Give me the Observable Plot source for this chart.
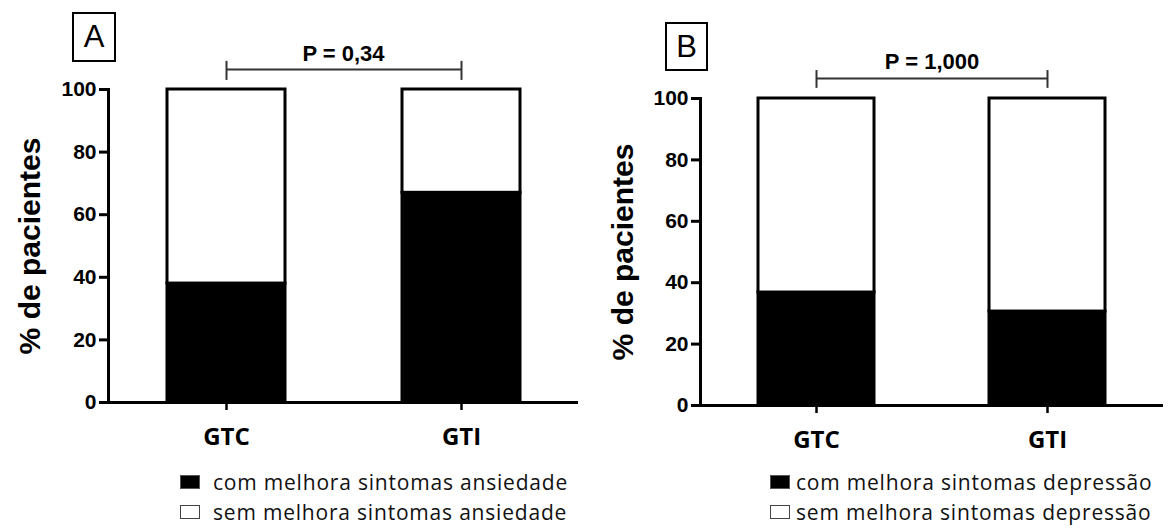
<!DOCTYPE html>
<html>
<head>
<meta charset="utf-8">
<script src="https://cdn.jsdelivr.net/npm/d3@7"></script>
<script src="https://cdn.jsdelivr.net/npm/@observablehq/plot@0.6"></script>
<style>
  html, body { margin: 0; padding: 0; background: #fff; }
  #wrap { position: relative; width: 1175px; height: 531px; overflow: hidden; background: #fff; }
  .panel { position: absolute; top: 0; }
  .tag { position: absolute; box-sizing: border-box; border: 2.5px solid #000; font-family: "Liberation Sans", Arial, sans-serif; font-size: 31px; display: flex; align-items: center; justify-content: center; color: #000; }
  .legend { position: absolute; font-family: "Open Sans", sans-serif; font-size: 21px; letter-spacing: 0.8px; color: #111; }
</style>
</head>
<body>
<div id="wrap"></div>
<script>
// ---- data ----
const categories = ["GTC", "GTI"];
const comA = [38, 67];          // % com melhora sintomas ansiedade
const semA = [62, 33];          // % sem melhora sintomas ansiedade
const comB = [36.8, 30.6];      // % com melhora sintomas depressão
const semB = [63.2, 69.4];      // % sem melhora sintomas depressão
const yTicks = [0, 20, 40, 60, 80, 100];
const yLabel = "% de pacientes";
const pA = "P = 0,34";
const pB = "P = 1,000";
const legendA = ["com melhora sintomas ansiedade", "sem melhora sintomas ansiedade"];
const legendB = ["com melhora sintomas depressão", "sem melhora sintomas depressão"];
const tags = ["A", "B"];

function rows(com, sem) {
  return categories.flatMap((c, i) => [
    {cat: c, grupo: "com", v: com[i]},
    {cat: c, grupo: "sem", v: sem[i]}
  ]);
}

function panel({com, sem, p, width, mL, mR, mT, mB, brY, brLo, brHi, pY, labelDx}) {
  return Plot.plot({
    width, height: 460,
    marginLeft: mL, marginRight: mR, marginTop: mT, marginBottom: mB,
    x: {domain: categories, paddingInner: 0.5, paddingOuter: 0.25, axis: null},
    y: {domain: [0, 100], axis: null},
    color: {type: "identity"},
    style: {background: "transparent", overflow: "visible", fontFamily: "Liberation Sans, Arial, sans-serif", fontWeight: "bold", fontSize: "20px", color: "#000"},
    marks: [
      Plot.barY(rows(com, sem), Plot.stackY({
        x: "cat", y: "v",
        fill: d => d.grupo === "com" ? "black" : "white",
        stroke: "black", strokeWidth: 3
      })),
      Plot.frame({anchor: "left", strokeWidth: 3, stroke: "black"}),
      Plot.ruleY([0], {strokeWidth: 3, stroke: "black"}),
      Plot.axisY({ticks: yTicks, tickSize: 9, tickPadding: 3, fontSize: 21, fontWeight: "bold", strokeWidth: 3, label: null}),
      Plot.axisX({tickSize: 8, tickPadding: 17, fontSize: 24, fontWeight: "bold", fontFamily: "Open Sans", strokeWidth: 2.5, label: null}),
      Plot.text([yLabel], {frameAnchor: "left", text: d => d, rotate: -90, dx: labelDx, fontSize: 30, fontWeight: "bold", lineAnchor: "middle", textAnchor: "middle"}),
      Plot.link([{from: categories[0], to: categories[1]}], {x1: "from", x2: "to", y1: brY, y2: brY, stroke: "#333", strokeWidth: 2}),
      Plot.ruleX(categories, {x: d => d, y1: brLo, y2: brHi, stroke: "#333", strokeWidth: 2}),
      Plot.text([p], {y: pY, text: d => d, fontSize: 22, fontWeight: "bold", lineAnchor: "middle"})
    ]
  });
}

const wrap = document.getElementById("wrap");

const a = panel({com: comA, sem: semA, p: pA, width: 590, mL: 108, mR: 12, mT: 89, mB: 58,
  brY: 106.4, brLo: 102.9, brHi: 109, pY: 111.3, labelDx: -78});
a.classList.add("panel"); a.style.left = "0px";
wrap.appendChild(a);

const b = panel({com: comB, sem: semB, p: pB, width: 585, mL: 110, mR: 12, mT: 98, mB: 55,
  brY: 106.5, brLo: 103.3, brHi: 109.1, pY: 112, labelDx: -77});
b.classList.add("panel"); b.style.left = "590px";
wrap.appendChild(b);

// panel tags
function tag(t, left, top, w, h) {
  const d = document.createElement("div");
  d.className = "tag"; d.textContent = t;
  Object.assign(d.style, {left: left + "px", top: top + "px", width: w + "px", height: h + "px"});
  wrap.appendChild(d);
}
tag(tags[0], 72, 12, 44, 50);
tag(tags[1], 665, 22, 43, 49);

// legends
function legend(labels, swLeft, textLeft, tops) {
  const fills = ["#000", "#fff"];
  const strokes = ["#555", "#444"];
  labels.forEach((lab, i) => {
    const sw = document.createElement("div");
    sw.className = "legend";
    Object.assign(sw.style, {left: swLeft + "px", top: (tops[i] - 7) + "px", width: "20px", height: "14px",
      background: fills[i], border: "1.5px solid " + strokes[i], boxSizing: "border-box"});
    wrap.appendChild(sw);
    const tx = document.createElement("div");
    tx.className = "legend";
    tx.textContent = lab;
    Object.assign(tx.style, {left: textLeft + "px", top: (tops[i] - 12) + "px", lineHeight: "24px", height: "24px", whiteSpace: "nowrap"});
    wrap.appendChild(tx);
  });
}
legend(legendA, 180, 213, [482, 512]);
legend(legendB, 770, 796, [482, 512]);
</script>
</body>
</html>
